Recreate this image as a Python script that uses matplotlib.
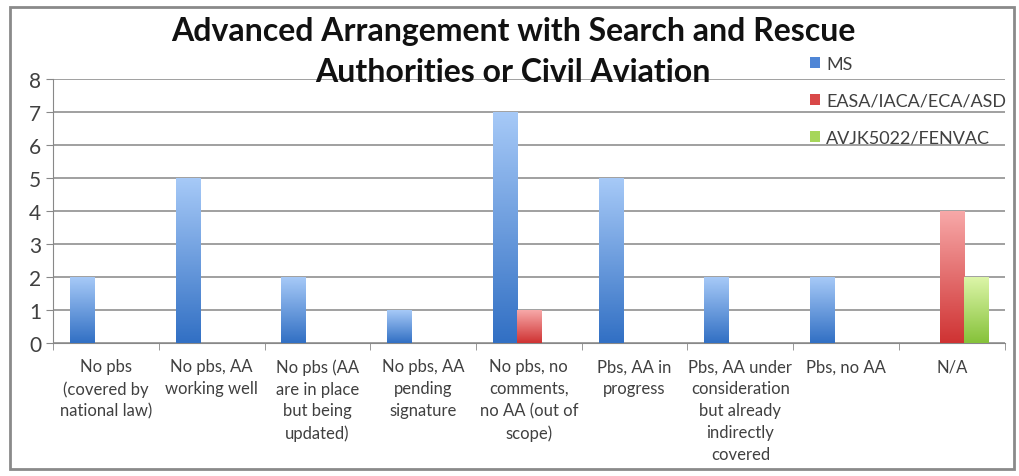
import numpy as np
import matplotlib.pyplot as plt
from matplotlib.colors import LinearSegmentedColormap
from matplotlib.patches import Rectangle

categories = ['No pbs\n(covered by\nnational law)', 'No pbs, AA\nworking well',
              'No pbs (AA\nare in place\nbut being\nupdated)', 'No pbs, AA\npending\nsignature',
              'No pbs, no\ncomments,\nno AA (out of\nscope)', 'Pbs, AA in\nprogress',
              'Pbs, AA under\nconsideration\nbut already\nindirectly\ncovered', 'Pbs, no AA', 'N/A']
series_names = ['MS', 'EASA/IACA/ECA/ASD', 'AVJK5022/FENVAC']
ms = [2, 5, 2, 1, 7, 5, 2, 2, 0]
easa = [0, 0, 0, 0, 1, 0, 0, 0, 4]
avjk = [0, 0, 0, 0, 0, 0, 0, 0, 2]
title_lines = ['Advanced Arrangement with Search and Rescue', 'Authorities or Civil Aviation']

colors = [('#a6c9f7', '#3270c4'), ('#f7a8a8', '#cf3333'), ('#dcf5a8', '#86c23a')]
legend_colors = ['#4f86d6', '#d94848', '#a6d65a']
fnt = ['Lato', 'DejaVu Sans']

fig = plt.figure(figsize=(10.2, 4.77), dpi=100)
ax = fig.add_axes([0.052, 0.279, 0.933, 0.553])

x = np.arange(len(categories))
w = 0.227
grad = np.linspace(0, 1, 100).reshape(-1, 1)
for i, vals in enumerate([ms, easa, avjk]):
    cmap = LinearSegmentedColormap.from_list('g%d' % i, [colors[i][1], colors[i][0]])
    bars = ax.bar(x + (i - 1) * w, vals, w, color=legend_colors[i], label=series_names[i], zorder=2)
    for b in bars:
        if b.get_height() <= 0:
            continue
        x0, y0 = b.get_x(), b.get_y()
        im = ax.imshow(grad, cmap=cmap, origin='lower', aspect='auto',
                       extent=[x0, x0 + b.get_width(), y0, y0 + b.get_height()], zorder=3)
        im.set_clip_path(b)

ax.set_xlim(-0.5, len(categories) - 0.5)
ax.set_ylim(0, 8)
ax.set_yticks(range(9))
ax.set_xticks(x)
ax.set_xticklabels(categories, fontsize=12, color='#404040', family=fnt, linespacing=1.45)
ax.set_xticks(np.arange(-0.5, len(categories)), minor=True)
ax.tick_params(axis='x', which='major', length=0, pad=11)
ax.tick_params(axis='x', which='minor', length=5, color='#888888')
ax.tick_params(axis='y', length=5, color='#888888', labelsize=15, labelcolor='#404040')
for t in ax.get_yticklabels():
    t.set_family(fnt)
ax.grid(axis='y', color='#999999', linewidth=1.3, zorder=0)
ax.set_axisbelow(True)
for s in ['top', 'right']:
    ax.spines[s].set_visible(False)
ax.spines['left'].set_color('#888888')
ax.spines['bottom'].set_color('#888888')

leg = ax.legend(loc='upper left', bbox_to_anchor=(810 / 1020, 1 - 57 / 477), bbox_transform=fig.transFigure,
                frameon=False, handlelength=0.55, handleheight=0.55, labelspacing=1.15,
                handletextpad=0.35, borderpad=0, borderaxespad=0, labelcolor='#404040',
                prop={'family': fnt, 'size': 13})

fig.text(0.503, 1 - 32 / 477, title_lines[0], ha='center', va='center', fontsize=23,
         fontweight='bold', family=fnt, color='#111111')
fig.text(0.503, 1 - 73 / 477, title_lines[1], ha='center', va='center', fontsize=23,
         fontweight='bold', family=fnt, color='#111111')

fig.patches.append(Rectangle((0.01, 0.015), 0.984, 0.968, transform=fig.transFigure,
                             fill=False, edgecolor='#8a8a8a', linewidth=2))

fig.savefig('out.png', dpi=100)
